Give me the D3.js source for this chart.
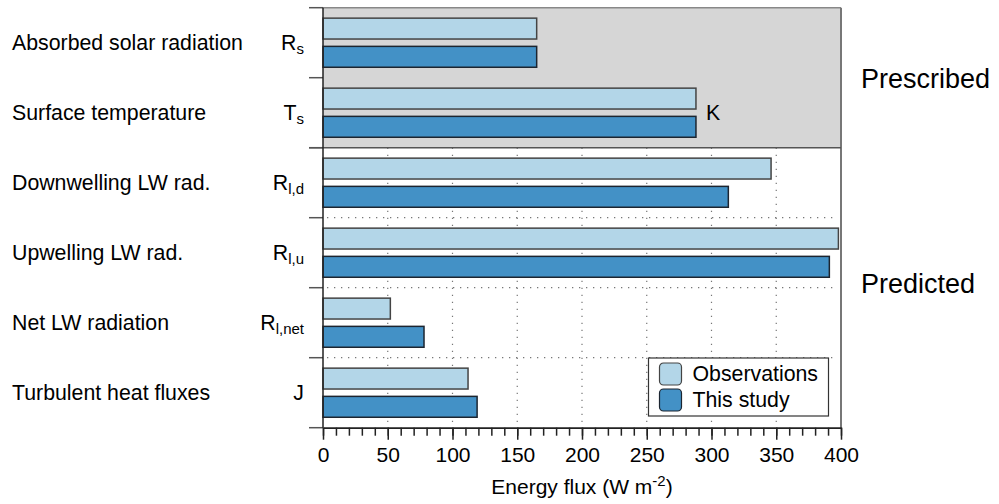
<!DOCTYPE html>
<html>
<head>
<meta charset="utf-8">
<script src="https://cdn.jsdelivr.net/npm/d3@7"></script>
<style>
  body { margin: 0; background: #fff; }
  text { font-family: "Liberation Sans", Arial, sans-serif; fill: #000; }
</style>
</head>
<body>
<div id="chart"></div>
<script>
// Chart data
var categories = ["Absorbed solar radiation", "Surface temperature", "Downwelling LW rad.",
                  "Upwelling LW rad.", "Net LW radiation", "Turbulent heat fluxes"];
var symbols = [["R", "s"], ["T", "s"], ["R", "l,d"], ["R", "l,u"], ["R", "l,net"], ["J", ""]];
var observations = [165, 288, 346, 398, 52, 112];
var thisStudy = [165, 288, 313, 391, 78, 119];
var seriesNames = ["Observations", "This study"];
var xTicks = [0, 50, 100, 150, 200, 250, 300, 350, 400];

var colors = ["#b3d6e8", "#4391c6"];

// SVG area
var svgWidth = 999;
var svgHeight = 504;

var margin = { top: 7.7, right: 158, bottom: 76.3, left: 323 };
var chartWidth = svgWidth - margin.left - margin.right;
var chartHeight = svgHeight - margin.top - margin.bottom;

var svg = d3.select("#chart")
  .append("svg")
  .attr("width", svgWidth)
  .attr("height", svgHeight);

var chartGroup = svg.append("g")
  .attr("transform", `translate(${margin.left}, ${margin.top})`);

// Scales
var xScale = d3.scaleLinear()
  .domain([0, 400])
  .range([0, chartWidth]);

var yScale = d3.scaleBand()
  .domain(categories)
  .range([0, chartHeight])
  .padding(0);

var innerScale = d3.scaleBand()
  .domain(seriesNames)
  .range([0, yScale.bandwidth()])
  .paddingInner(0.26)
  .paddingOuter(0.37);

var step = yScale.step();

// Gray "prescribed" background (first two groups)
chartGroup.append("rect")
  .attr("x", 0)
  .attr("y", yScale(categories[0]))
  .attr("width", chartWidth)
  .attr("height", yScale(categories[2]) - yScale(categories[0]))
  .style("fill", "#d6d6d6");

// Dotted grid in the predicted region
var predTop = yScale(categories[2]);
chartGroup.selectAll(".vgrid")
  .data(xTicks.slice(1, -1))
  .enter()
  .append("line")
  .attr("x1", d => xScale(d))
  .attr("x2", d => xScale(d))
  .attr("y1", predTop)
  .attr("y2", chartHeight)
  .style("stroke", "#777")
  .style("stroke-width", 1.2)
  .style("stroke-dasharray", "1.3,5.7");

chartGroup.selectAll(".hgrid")
  .data(categories.slice(3))
  .enter()
  .append("line")
  .attr("x1", 4)
  .attr("x2", chartWidth - 4)
  .attr("y1", d => yScale(d))
  .attr("y2", d => yScale(d))
  .style("stroke", "#777")
  .style("stroke-width", 1.2)
  .style("stroke-dasharray", "1.3,5.7");

// Bars
var rows = categories.map((c, i) => ({ cat: c, values: [observations[i], thisStudy[i]] }));

var groups = chartGroup.selectAll(".group")
  .data(rows)
  .enter()
  .append("g")
  .attr("transform", d => `translate(0, ${yScale(d.cat)})`);

groups.selectAll("rect")
  .data(d => d.values.map((v, j) => ({ series: seriesNames[j], value: v, j: j })))
  .enter()
  .append("rect")
  .attr("x", xScale(0))
  .attr("y", d => innerScale(d.series))
  .attr("width", d => xScale(d.value) - xScale(0))
  .attr("height", innerScale.bandwidth())
  .style("fill", d => colors[d.j])
  .style("stroke", d => d.j == 0 ? "#444" : "#1c2530")
  .style("stroke-width", 1.5);

// Frame lines
chartGroup.append("line")
  .attr("x1", 0).attr("x2", chartWidth)
  .attr("y1", 0).attr("y2", 0)
  .style("stroke", "#888").style("stroke-width", 1.5);

chartGroup.append("line")
  .attr("x1", chartWidth).attr("x2", chartWidth)
  .attr("y1", 0).attr("y2", chartHeight)
  .style("stroke", "#777").style("stroke-width", 2);

chartGroup.append("line")
  .attr("x1", -14).attr("x2", chartWidth)
  .attr("y1", predTop).attr("y2", predTop)
  .style("stroke", "#555").style("stroke-width", 1.5);

// Left axis: ticks at group boundaries
var bounds = categories.map(c => yScale(c)).concat([chartHeight]);
chartGroup.selectAll(".ytick")
  .data(bounds)
  .enter()
  .append("line")
  .attr("x1", -14).attr("x2", 0)
  .attr("y1", d => d).attr("y2", d => d)
  .style("stroke", "#555").style("stroke-width", 1.5);

chartGroup.append("line")
  .attr("x1", 0).attr("x2", 0)
  .attr("y1", 0).attr("y2", chartHeight)
  .style("stroke", "#222").style("stroke-width", 1.5);

// X axis (minor + major)
var minorAxis = d3.axisBottom(xScale)
  .tickValues(d3.range(0, 401, 10))
  .tickSize(8)
  .tickSizeOuter(0)
  .tickFormat("");

var bottomAxis = d3.axisBottom(xScale)
  .tickValues(xTicks)
  .tickSize(12)
  .tickSizeOuter(0)
  .tickPadding(7);

var minorG = chartGroup.append("g")
  .attr("transform", `translate(0, ${chartHeight})`)
  .call(minorAxis);

var xAxisG = chartGroup.append("g")
  .attr("transform", `translate(0, ${chartHeight})`)
  .call(bottomAxis);

[minorG, xAxisG].forEach(g => {
  g.selectAll("line").style("stroke", "#222").style("stroke-width", 1.5);
  g.select(".domain").style("stroke", "#222").style("stroke-width", 1.5);
});
xAxisG.selectAll("text")
  .style("font-size", "21px")
  .style("font-family", "'Liberation Sans', Arial, sans-serif")
  .style("fill", "#000");

// X axis title
var xTitle = svg.append("text")
  .attr("x", margin.left + chartWidth / 2)
  .attr("y", 494)
  .attr("text-anchor", "middle")
  .style("font-size", "21px");
xTitle.append("tspan").text("Energy flux (W m");
xTitle.append("tspan").attr("dy", -8).style("font-size", "15px").text("-2");
xTitle.append("tspan").attr("dy", 8).text(")");

// Category labels
svg.selectAll(".catlabel")
  .data(categories)
  .enter()
  .append("text")
  .attr("x", 12)
  .attr("y", d => margin.top + yScale(d) + step / 2 + 7.5)
  .style("font-size", "21.3px")
  .text(d => d);

// Symbol labels
var symText = svg.selectAll(".sym")
  .data(symbols)
  .enter()
  .append("text")
  .attr("x", 304)
  .attr("y", (d, i) => margin.top + yScale(categories[i]) + step / 2 + 7.5)
  .attr("text-anchor", "end")
  .style("font-size", "21.3px");
symText.append("tspan").text(d => d[0]);
symText.append("tspan")
  .attr("dy", 4)
  .style("font-size", "15px")
  .text(d => d[1]);

// Unit label for temperature
svg.append("text")
  .attr("x", margin.left + xScale(observations[1]) + 10)
  .attr("y", margin.top + yScale(categories[1]) + step / 2 + 7.5)
  .style("font-size", "21.3px")
  .text("K");

// Region labels
svg.append("text")
  .attr("x", 861)
  .attr("y", 88)
  .style("font-size", "27px")
  .text("Prescribed");

svg.append("text")
  .attr("x", 861)
  .attr("y", 293)
  .style("font-size", "27px")
  .text("Predicted");

// Legend
var legend = svg.append("g")
  .attr("transform", "translate(648.5, 358)");

legend.append("rect")
  .attr("width", 180)
  .attr("height", 58)
  .style("fill", "#fff")
  .style("stroke", "#333")
  .style("stroke-width", 1.2);

seriesNames.forEach((name, j) => {
  legend.append("rect")
    .attr("x", 11)
    .attr("y", 5 + j * 26)
    .attr("width", 22)
    .attr("height", 22)
    .attr("rx", 4)
    .style("fill", colors[j])
    .style("stroke", j == 0 ? "#444" : "#1c2530")
    .style("stroke-width", 1.2);
  legend.append("text")
    .attr("x", 44)
    .attr("y", 23 + j * 26)
    .style("font-size", "21.3px")
    .text(name);
});
</script>
</body>
</html>
